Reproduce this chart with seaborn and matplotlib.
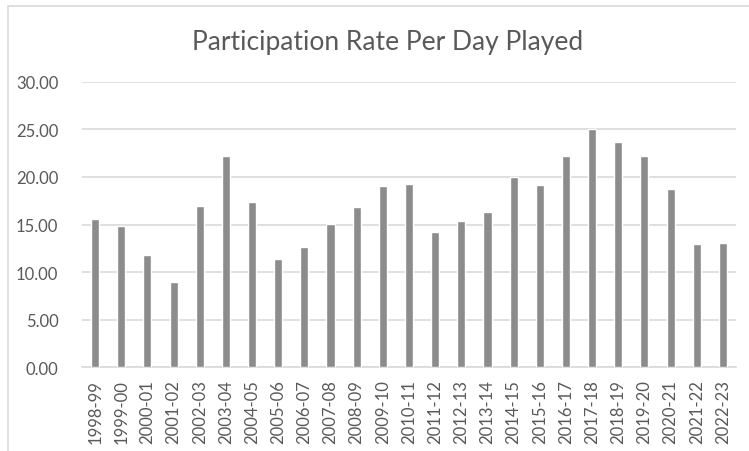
import matplotlib
matplotlib.use("Agg")
from matplotlib import pyplot as plt
from matplotlib.patches import Rectangle
import seaborn as sns
import pandas as pd

seasons = ['1998-99', '1999-00', '2000-01', '2001-02', '2002-03', '2003-04', '2004-05',
           '2005-06', '2006-07', '2007-08', '2008-09', '2009-10', '2010-11', '2011-12',
           '2012-13', '2013-14', '2014-15', '2015-16', '2016-17', '2017-18', '2018-19',
           '2019-20', '2020-21', '2021-22', '2022-23']
rates = [15.57, 14.83, 11.77, 9.00, 16.90, 22.17, 17.32, 11.35, 12.68, 15.04, 16.83, 19.08,
         19.29, 14.16, 15.35, 16.34, 20.03, 19.18, 22.20, 25.05, 23.72, 22.20, 18.69, 12.90, 13.04]
y_ticks = [0, 5, 10, 15, 20, 25, 30]

df = pd.DataFrame({'season': seasons, 'rate': rates})

sns.set_style('white')
plt.rcParams['font.family'] = ['Lato', 'DejaVu Sans']
text_col = '#595959'
grid_col = '#D9D9D9'

fig = plt.figure(figsize=(7.49, 4.52), dpi=100)
ax = fig.add_axes([0.1095, 0.1858, 0.8731, 0.6306])

sns.barplot(data=df, x='season', y='rate', color='#8C8C8C', saturation=1,
            width=0.31, ax=ax, zorder=3)

ax.set_ylim(0, 30)
ax.set_yticks(y_ticks)
ax.set_yticklabels([f'{v:.2f}' for v in y_ticks], color=text_col, fontsize=12)
ax.set_xlim(-0.5, len(seasons) - 0.5)
ax.tick_params(axis='x', labelrotation=90, labelsize=12, labelcolor=text_col, length=0, pad=9)
ax.tick_params(axis='y', length=0, pad=17)
ax.set_xlabel('')
ax.set_ylabel('')
ax.yaxis.grid(True, color=grid_col, linewidth=1.2, zorder=0)
ax.set_axisbelow(True)
for s in ['top', 'right', 'left']:
    ax.spines[s].set_visible(False)
ax.spines['bottom'].set_color(grid_col)
ax.spines['bottom'].set_linewidth(1.2)

fig.text(0.518, 0.905, 'Participation Rate Per Day Played', ha='center', va='center',
         fontsize=19, color=text_col)

# outer chart frame (top and left edges visible)
fig.patches.append(Rectangle((8 / 749, -0.05), 1.2, 1.05 - 7 / 452, transform=fig.transFigure,
                             fill=False, edgecolor=grid_col, linewidth=1.2))

fig.savefig('out.png', dpi=100)
